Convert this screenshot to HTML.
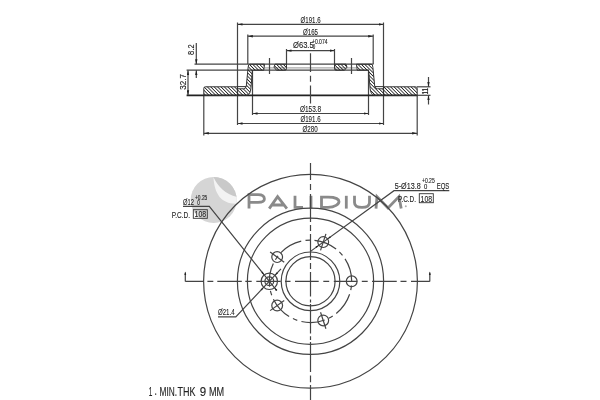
<!DOCTYPE html>
<html><head><meta charset="utf-8">
<style>
html,body{margin:0;padding:0;background:#fff;width:600px;height:400px;overflow:hidden}
svg{display:block;will-change:transform}
text{font-family:"Liberation Sans",sans-serif;fill:#222;stroke:#222;stroke-width:0.12}
</style></head>
<body>
<svg width="600" height="400" viewBox="0 0 600 400">
<defs>
<pattern id="h" width="2.4" height="10" patternUnits="userSpaceOnUse" patternTransform="rotate(-45)">
<line x1="1.2" y1="0" x2="1.2" y2="10" stroke="#222" stroke-width="0.85"/>
</pattern>
<marker id="ae" viewBox="0 0 5 3" refX="5" refY="1.5" markerWidth="5" markerHeight="3" markerUnits="userSpaceOnUse" orient="auto">
<path d="M0,0.3 L5,1.5 L0,2.7 Z" fill="#222"/>
</marker>
<marker id="as" viewBox="0 0 5 3" refX="0" refY="1.5" markerWidth="5" markerHeight="3" markerUnits="userSpaceOnUse" orient="auto">
<path d="M5,0.3 L0,1.5 L5,2.7 Z" fill="#222"/>
</marker>
</defs>

<!-- ============ TOP SECTION ============ -->
<g stroke="#444" stroke-width="1.2" fill="none">
<!-- extension lines -->
<line x1="237.5" y1="22.5" x2="237.5" y2="125"/>
<line x1="383.5" y1="22.5" x2="383.5" y2="125"/>
<line x1="247.8" y1="34.5" x2="247.8" y2="64"/>
<line x1="373.2" y1="34.5" x2="373.2" y2="64"/>
<line x1="286.5" y1="49" x2="286.5" y2="64"/>
<line x1="334.5" y1="49" x2="334.5" y2="64"/>
<line x1="252.5" y1="70" x2="252.5" y2="115"/>
<line x1="368.5" y1="70" x2="368.5" y2="115"/>
<line x1="203.8" y1="95" x2="203.8" y2="135.5"/>
<line x1="417.2" y1="95" x2="417.2" y2="135.5"/>
<!-- dim lines -->
<line x1="237.5" y1="24.4" x2="383.5" y2="24.4" marker-start="url(#as)" marker-end="url(#ae)"/>
<line x1="247.8" y1="36.2" x2="373.2" y2="36.2" marker-start="url(#as)" marker-end="url(#ae)"/>
<line x1="286.5" y1="50.6" x2="334.5" y2="50.6" marker-start="url(#as)" marker-end="url(#ae)"/>
<line x1="252.5" y1="113.5" x2="368.5" y2="113.5" marker-start="url(#as)" marker-end="url(#ae)"/>
<line x1="237.5" y1="123.5" x2="383.5" y2="123.5" marker-start="url(#as)" marker-end="url(#ae)"/>
<line x1="203.8" y1="133.3" x2="417.2" y2="133.3" marker-start="url(#as)" marker-end="url(#ae)"/>
<!-- hat surface lines -->
<line x1="194.5" y1="64.2" x2="373.5" y2="64.2"/>
<line x1="186.6" y1="70.2" x2="369" y2="70.2"/>
<line x1="264.5" y1="67.8" x2="356.5" y2="67.8" stroke="#aaa"/>
<line x1="186.6" y1="95.3" x2="417.5" y2="95.3" stroke="#222" stroke-width="1.7"/>
<line x1="417.5" y1="95.3" x2="430.5" y2="95.3"/>
<line x1="417" y1="86.8" x2="430.5" y2="86.8"/>
<!-- left dims -->
<line x1="196.3" y1="43" x2="196.3" y2="64.2" marker-end="url(#ae)"/>
<line x1="196.3" y1="78" x2="196.3" y2="70.2" marker-end="url(#ae)"/>
<line x1="188" y1="70.2" x2="188" y2="95.3" marker-start="url(#as)" marker-end="url(#ae)"/>
<!-- right dim 11 -->
<line x1="428.5" y1="77" x2="428.5" y2="86.8" marker-end="url(#ae)"/>
<line x1="428.5" y1="104.5" x2="428.5" y2="95.3" marker-end="url(#ae)"/>
<!-- bolt hole centre lines -->
<line x1="269.5" y1="58" x2="269.5" y2="74"/>
<line x1="351.5" y1="58" x2="351.5" y2="74"/>
<!-- centre line -->
<path d="M310.5,53.2 V72 M310.5,75.7 V81.7 M310.5,85.5 V103.6"/>
</g>

<!-- hatched section, left -->
<g id="secL" stroke="#333" stroke-width="1" fill="url(#h)">
<path d="M203.8,95.3 L203.8,88.3 Q203.8,86.8 205.3,86.8 L237.5,86.8 L237.5,88.8 L243.5,88.8 Q245.9,88.7 246.3,86 L248.1,67.5 Q248.2,64.2 249.8,64.2 L264.5,64.2 L263.8,70.2 L253.5,70.2 Q252.4,70.2 252.3,71.5 L250.9,88.5 Q250.4,94.8 246.5,95.3 Z"/>
<path d="M275,64.2 L286.5,64.2 L286.5,68.7 Q286.5,70.2 285,70.2 L276.5,70.2 L274,67.2 Z"/>
<line x1="237.5" y1="86.6" x2="246.3" y2="86.6" fill="none"/>
</g>
<g id="secR" stroke="#333" stroke-width="1" fill="url(#h)">
<path d="M417.2,95.3 L417.2,88.3 Q417.2,86.8 415.7,86.8 L383.5,86.8 L383.5,88.8 L377.5,88.8 Q375.1,88.7 374.7,86 L372.9,67.5 Q372.8,64.2 371.2,64.2 L356.5,64.2 L357.2,70.2 L367.5,70.2 Q368.6,70.2 368.7,71.5 L370.1,88.5 Q370.6,94.8 374.5,95.3 Z"/>
<path d="M346,64.2 L334.5,64.2 L334.5,68.7 Q334.5,70.2 336,70.2 L344.5,70.2 L347,67.2 Z"/>
<line x1="383.5" y1="86.6" x2="374.7" y2="86.6" fill="none"/>
</g>

<!-- top texts -->
<g font-size="9">
<text x="300.6" y="22.5" textLength="20" lengthAdjust="spacingAndGlyphs">Ø191.6</text>
<text x="303" y="35" textLength="15" lengthAdjust="spacingAndGlyphs">Ø165</text>
<text x="293" y="47.5" textLength="20.7" lengthAdjust="spacingAndGlyphs">Ø63.5</text>
<text x="312" y="43.8" font-size="6.3" textLength="15.5" lengthAdjust="spacingAndGlyphs">+0.074</text>
<text x="312.7" y="49.4" font-size="6.3" textLength="2.5" lengthAdjust="spacingAndGlyphs">0</text>
<text x="300" y="112" textLength="21.2" lengthAdjust="spacingAndGlyphs">Ø153.8</text>
<text x="300.4" y="121.5" textLength="20.2" lengthAdjust="spacingAndGlyphs">Ø191.6</text>
<text x="302.5" y="132" textLength="15.2" lengthAdjust="spacingAndGlyphs">Ø280</text>
<text transform="translate(193.8,54.9) rotate(-90)" textLength="10.5" lengthAdjust="spacingAndGlyphs">8.2</text>
<text transform="translate(186.2,89.8) rotate(-90)" textLength="15.7" lengthAdjust="spacingAndGlyphs">32.7</text>
<text transform="translate(427.6,94.6) rotate(-90)" font-size="9" textLength="6.6" lengthAdjust="spacingAndGlyphs" style="stroke-width:0.15">11</text>
</g>

<!-- logo watermark -->
<g id="logo">
<clipPath id="lc"><circle cx="213.7" cy="200" r="23"/></clipPath>
<circle cx="213.7" cy="200" r="23" fill="#d5d5d5"/>
<g clip-path="url(#lc)">
<path d="M213.4,177 C218,187 226,195 239,197.5 L242,176 Z" fill="#c9c9c9"/>
<path d="M213.4,177 C214.5,195 222,205 239,203.5 L239,197.5 C226,195 218,187 213.4,177 Z" fill="#f3f3f3"/>
</g>
<g fill="none" stroke="#8a8a8a" stroke-width="2.8">
<path d="M249,208.6 V194.7 H258 C262.5,194.7 264.4,196.8 264.4,199 C264.4,201.2 262.5,202.3 258,202.3 H249"/>
<path d="M269.2,208.6 L277.6,196.6 L286.9,208.6 M272.3,205 H283.9"/>
<path d="M295,195.8 V207.3 H303"/>
<path d="M311,195.8 V208.6"/>
<path d="M321.5,195.8 V207.3 H328 C335,207.3 339,204 339,201.5 C339,199 335,197.1 328,197.1 H321.5"/>
<path d="M346.3,195.8 V208.6"/>
<path d="M354.5,195.8 V202.5 C354.5,206 357.5,207.4 362,207.4 C366.5,207.4 369.5,206 369.5,202.5 V195.8"/>
<path d="M376,208.6 L377,196.6 L388,208 L399,196.6 L401.2,208.6"/>
</g>
<circle cx="405.8" cy="206.3" r="1" fill="#b0b0b0"/>
</g>
<!-- ============ FRONT VIEW ============ -->
<g stroke="#444" stroke-width="1.2" fill="none">
<circle cx="310.5" cy="281.3" r="106.9"/>
<circle cx="310.5" cy="281.3" r="73.1"/>
<circle cx="310.5" cy="281.3" r="63.1"/>
<circle cx="310.5" cy="281.3" r="29.3"/>
<circle cx="310.5" cy="281.3" r="24.6"/>
<path d="M297.26,320.31 A41.2,41.2 0 0 1 292.93,318.56 M289.13,316.52 A41.2,41.2 0 0 1 273.42,299.26 M271.74,295.27 A41.2,41.2 0 0 1 270.41,290.79 M269.64,286.55 A41.2,41.2 0 0 1 273.34,263.51 M275.41,259.71 A41.2,41.2 0 0 1 278.08,255.87 M280.92,252.62 A41.2,41.2 0 0 1 301.24,241.15 M305.50,240.40 A41.2,41.2 0 0 1 310.17,240.10 M314.47,240.29 A41.2,41.2 0 0 1 336.11,249.03 M339.36,251.90 A41.2,41.2 0 0 1 342.50,255.35 M345.04,258.84 A41.2,41.2 0 0 1 351.70,281.20 M351.48,285.53 A41.2,41.2 0 0 1 350.74,290.14 M349.60,294.30 A41.2,41.2 0 0 1 336.26,313.45 M332.74,315.98 A41.2,41.2 0 0 1 328.68,318.27 M324.71,319.97 A41.2,41.2 0 0 1 301.43,321.49"/>
<circle cx="351.70" cy="281.30" r="5.4"/>
<circle cx="323.23" cy="320.48" r="5.4"/>
<line x1="320.54" y1="312.21" x2="325.92" y2="328.76"/>
<circle cx="277.17" cy="305.52" r="5.4"/>
<line x1="284.21" y1="300.40" x2="270.13" y2="310.63"/>
<circle cx="323.23" cy="242.12" r="5.4"/>
<line x1="320.54" y1="250.39" x2="325.92" y2="233.84"/>
<circle cx="277.17" cy="257.08" r="5.4"/>
<line x1="284.21" y1="262.20" x2="270.13" y2="251.97"/>
<circle cx="269.30" cy="281.30" r="8.2"/>
<circle cx="269.30" cy="281.30" r="4.4"/>
<path d="M185.3,272.5 V281.4 M185.3,281.4 H203.3 M207.4,281.4 H213.3 M217.3,281.4 H241.8 M245.3,281.4 H251.7 M256.3,281.4 H280.75 M285,281.4 H290.5 M295,281.4 H318.7 M323.3,281.4 H329.2 M333.8,281.4 H357.2 M361.8,281.4 H367.7 M372,281.4 H396.75 M400.5,281.4 H406.5 M411,281.4 H429.8 M429.8,281.4 V272.5"/>
<path d="M310.5,163 V180 M310.5,184 V190 M310.5,194 V222 M310.5,225 V231 M310.5,234 V260 M310.5,263 V269 M310.5,272 V296.5 M310.5,299.5 V302.5 M310.5,304 V333.4 M310.5,336.25 V340 M310.5,342 V372 M310.5,375.6 V382.2 M310.5,385 V400"/>
<path d="M183,206.3 H209.3 L276.80,290.67"/>
<path d="M218,316.8 H235.8 L280.97,268.94"/>
<path d="M449.3,190.7 H394 L310.50,251.37"/>
</g>
<g fill="#222" stroke="none">
<path d="M264.18,274.90 L261.29,272.73 L262.69,271.60 Z"/>
<path d="M274.42,287.70 L277.31,289.87 L275.91,291.00 Z"/>
<path d="M263.67,287.26 L261.92,290.43 L260.62,289.19 Z"/>
<path d="M274.93,275.34 L276.68,272.17 L277.98,273.41 Z"/>
<path d="M327.60,238.94 L329.90,236.16 L330.96,237.61 Z"/>
<path d="M318.86,245.29 L316.56,248.08 L315.50,246.62 Z"/>
<path d="M185.30,271.50 L186.20,275.00 L184.40,275.00 Z"/>
<path d="M429.80,271.50 L430.70,275.00 L428.90,275.00 Z"/>
</g>
<!-- front texts -->
<g font-size="9">
<text x="183" y="205" textLength="11" lengthAdjust="spacingAndGlyphs">Ø12</text>
<text x="195" y="199.7" font-size="6.3" textLength="12.3" lengthAdjust="spacingAndGlyphs">+0.25</text>
<text x="197.3" y="205.3" font-size="6.3" textLength="2.6" lengthAdjust="spacingAndGlyphs">0</text>
<text x="171.7" y="217.7" textLength="18.3" lengthAdjust="spacingAndGlyphs">P.C.D.</text>
<text x="194.6" y="217" textLength="11.5" lengthAdjust="spacingAndGlyphs">108</text>
<text x="394.7" y="188.7" textLength="26" lengthAdjust="spacingAndGlyphs">5-Ø13.8</text>
<text x="422" y="183.3" font-size="6.3" textLength="12.7" lengthAdjust="spacingAndGlyphs">+0.25</text>
<text x="424" y="188.7" font-size="6.3" textLength="3.3" lengthAdjust="spacingAndGlyphs">0</text>
<text x="436.7" y="188.7" textLength="12.6" lengthAdjust="spacingAndGlyphs">EQS</text>
<text x="398" y="202" textLength="18" lengthAdjust="spacingAndGlyphs">P.C.D.</text>
<text x="420.6" y="201.5" textLength="11.5" lengthAdjust="spacingAndGlyphs">108</text>
<text x="218" y="315.4" textLength="16.6" lengthAdjust="spacingAndGlyphs">Ø21.4</text>
<g font-size="12.5" style="stroke-width:0.05;fill:#333">
<text x="148.8" y="395.7" textLength="3.6" lengthAdjust="spacingAndGlyphs">1</text>
<text x="154.6" y="394.6" textLength="2.4" lengthAdjust="spacingAndGlyphs">.</text>
<text x="159.5" y="395.7" textLength="17.5" lengthAdjust="spacingAndGlyphs">MIN.</text>
<text x="177.6" y="395.7" textLength="18" lengthAdjust="spacingAndGlyphs">THK</text>
<text x="199.8" y="395.7" textLength="6.4" lengthAdjust="spacingAndGlyphs">9</text>
<text x="209" y="395.7" textLength="15.2" lengthAdjust="spacingAndGlyphs">MM</text>
</g>
</g>
<g fill="none" stroke="#333" stroke-width="0.9">
<rect x="193.3" y="209.7" width="14" height="8.6"/>
<rect x="419.3" y="193.7" width="14" height="9"/>
</g>
</svg>
</body></html>
